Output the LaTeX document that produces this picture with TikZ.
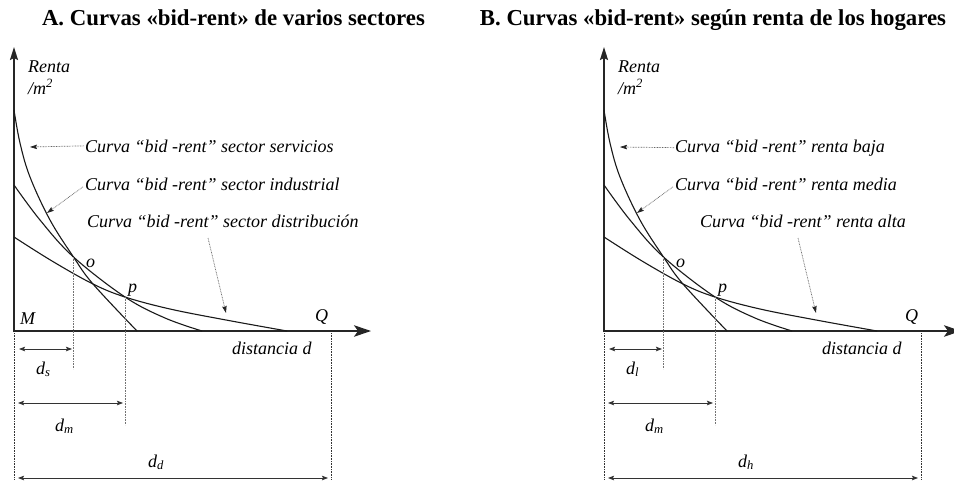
\documentclass[tikz,border=0pt]{standalone}
\usepackage{fontspec}
\setmainfont{Liberation Serif}
\usetikzlibrary{arrows.meta,calc}
\tikzset{
  axis/.style={line width=1.8pt, draw=black!85, line join=miter},
  curve/.style={line width=1.1pt, draw=black!90},
  leader/.style={line width=0.7pt, draw=black!60, dash pattern=on 0.8pt off 0.8pt,
    -{Stealth[length=7pt,width=4.5pt,inset=1pt,fill=black!85,color=black!85]}},
  dimline/.style={line width=0.8pt, draw=black!80,
    {Stealth[length=6pt,width=4.5pt,inset=1pt]}-{Stealth[length=6pt,width=4.5pt,inset=1pt]}},
  guide/.style={line width=0.8pt, draw=black!55, dash pattern=on 0.8pt off 0.8pt},
  guidedark/.style={line width=0.8pt, draw=black!80, dash pattern=on 0.8pt off 0.8pt},
  lbl/.style={font=\fontsize{18}{20}\selectfont\itshape, inner sep=0pt, anchor=base west},
  ttl/.style={font=\fontsize{22.8}{26}\selectfont\bfseries, inner sep=0pt, anchor=base},
}
\newcommand{\bidpanel}{%
  \coordinate (O) at (14,331);
  \coordinate (Ytop) at (14,47);
  \coordinate (Xend) at (371,331);
  \coordinate (o) at (73.5,257);
  \coordinate (p) at (125,297);
  % axes
  \draw[axis, {Stealth[length=13pt,width=8pt,inset=2pt]}-{Stealth[length=17pt,width=11.5pt,inset=4pt]}]
    (Ytop) -- (O) -- (Xend);
  % curves
  \draw[curve] plot[smooth, tension=0.6] coordinates
    {(14,110) (20,143) (30,177) (50,220) (73.5,257) (93,284) (137,331)};
  \draw[curve] plot[smooth, tension=0.6] coordinates
    {(14,185) (40,220) (73.5,257) (125,297) (165,318) (202,331)};
  \draw[curve] plot[smooth, tension=0.6] coordinates
    {(14,237) (52,261) (93,284) (125,297) (170,309) (226,320) (287,331)};
  % guides
  \coordinate (os) at (73.5,369);
  \coordinate (ps) at (125,425);
  \coordinate (l0) at (14,333);
  \coordinate (l1) at (14,479);
  \coordinate (r0) at (331,333);
  \coordinate (r1) at (331,479);
  \draw[guide] (o) -- (os);
  \draw[guide] (p) -- (ps);
  \draw[guidedark] (l0) -- (l1);
  \draw[guidedark] (r0) -- (r1);
  % dimension arrows
  \coordinate (s1) at (19,349);
  \coordinate (s2) at (72,349);
  \coordinate (m1) at (18,403);
  \coordinate (m2) at (123,403);
  \coordinate (d1) at (18,478);
  \coordinate (d2) at (328,478);
  \draw[dimline] (s1) -- (s2);
  \draw[dimline] (m1) -- (m2);
  \draw[dimline] (d1) -- (d2);
  % labels
  \node[lbl] (renta) at (28,72) {Renta};
  \node[lbl] (m2lab) at (28,94) {/m\textsuperscript{2}};
  \node[lbl] (olab) at (86,267) {o};
  \node[lbl] (plab) at (128,292) {p};
  \node[lbl] (Qlab) at (315,321) {Q};
  \node[lbl] (dist) at (232,354) {distancia d};
  \node[lbl] (dmlab) at (55,431) {d\textsubscript{m}};
}
\begin{document}
\begin{tikzpicture}[x=1pt,y=-1pt]
  \useasboundingbox (0,0) rectangle (954,482);
  % ---- panel A ----
  \begin{scope}[name prefix=A-]
    \bidpanel
  \end{scope}
  \node[ttl] (titleA) at (233.5,25) {A. Curvas «bid-rent» de varios sectores};
  \node[lbl] (Mlab) at (20,324) {M};
  \node[lbl] (dslab) at (36,374) {d\textsubscript{s}};
  \node[lbl] (ddlab) at (148,467) {d\textsubscript{d}};
  \node[lbl] (tA1) at (85,152) {Curva “bid -rent” sector servicios};
  \node[lbl] (tA2) at (85,190) {Curva “bid -rent” sector industrial};
  \node[lbl] (tA3) at (87,227) {Curva “bid -rent” sector distribución};
  \coordinate (aA1) at (30,147);
  \coordinate (aA2) at (47,213);
  \coordinate (bA3) at (208,238);
  \coordinate (aA3) at (226,313);
  \draw[leader] ([xshift=-1pt]tA1.west) -- (aA1);
  \draw[leader] ($(tA2.west)+(-2,3)$) -- (aA2);
  \draw[leader] (bA3) -- (aA3);
  % ---- panel B ----
  \begin{scope}[xshift=590pt, name prefix=B-]
    \bidpanel
  \end{scope}
  \node[ttl] (titleB) at (713,25) {B. Curvas «bid-rent» según renta de los hogares};
  \node[lbl] (dllab) at (626,374) {d\textsubscript{l}};
  \node[lbl] (dhlab) at (738,467) {d\textsubscript{h}};
  \node[lbl] (tB1) at (675,152) {Curva “bid -rent” renta baja};
  \node[lbl] (tB2) at (675,190) {Curva “bid -rent” renta media};
  \node[lbl] (tB3) at (700,227) {Curva “bid -rent” renta alta};
  \coordinate (aB1) at (620,147);
  \coordinate (aB2) at (637,213);
  \coordinate (bB3) at (798,238);
  \coordinate (aB3) at (816,313);
  \draw[leader] ([xshift=-1pt]tB1.west) -- (aB1);
  \draw[leader] ($(tB2.west)+(-2,3)$) -- (aB2);
  \draw[leader] (bB3) -- (aB3);
\end{tikzpicture}
\end{document}
